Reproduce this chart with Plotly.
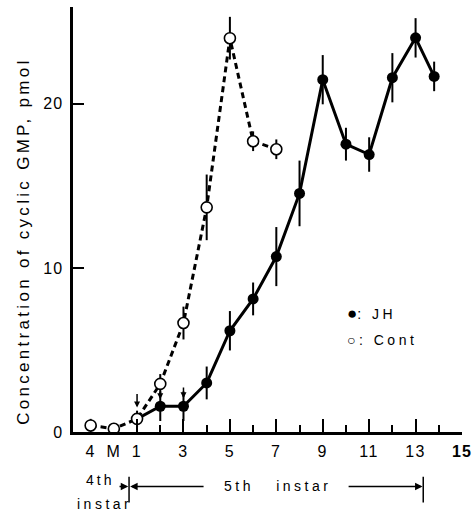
import plotly.graph_objects as go

# ---- data ----
jh_day = [1, 2, 3, 4, 5, 6, 7, 8, 9, 10, 11, 12, 13, 13.8]
jh_val = [0.8, 1.57, 1.57, 2.99, 6.17, 8.11, 10.69, 14.54, 21.47, 17.54, 16.91, 21.59, 24.02, 21.67]
jh_err = [0, 0.9, 0.9, 1.0, 1.2, 1.0, 1.8, 2.0, 1.5, 1.0, 1.05, 1.5, 1.2, 0.9]

cont_day = [-1, 0, 1, 2, 3, 4, 5, 6, 7]
cont_val = [0.4, 0.2, 0.8, 2.93, 6.64, 13.69, 24.0, 17.72, 17.23]
cont_err = [0.4, 0.3, 0.5, 0.6, 1.0, 2.0, 1.3, 0.6, 0.6]

jh_arrow_day = [1, 2, 3]
jh_arrow_top = [2.4, 2.45, 2.8]
jh_arrow_tip = [1.5, 2.0, 2.05]

tick_pos = [-1, 0, 1, 3, 5, 7, 9, 11, 13, 15]
tick_txt = ["4", "M", "1", "3", "5", "7", "9", "11", "13", "15"]

FONT = "Liberation Sans, Arial, Helvetica, sans-serif"


def sp(t, ls):
    return f"<span style='letter-spacing:{ls}px'>{t}</span>"


fig = go.Figure()

fig.add_trace(go.Scatter(
    x=jh_day, y=jh_val, mode="lines+markers",
    line=dict(color="black", width=3),
    marker=dict(size=11, color="black"),
    error_y=dict(type="data", array=jh_err, width=0, thickness=2, color="black"),
    showlegend=False, xaxis="x", yaxis="y"))

fig.add_trace(go.Scatter(
    x=cont_day, y=cont_val, mode="lines+markers",
    line=dict(color="black", width=3, dash="6px,4px"),
    marker=dict(size=11, color="white", line=dict(color="black", width=1.6)),
    error_y=dict(type="data", array=cont_err, width=0, thickness=2, color="black"),
    showlegend=False, xaxis="x", yaxis="y"))

# invisible trace for tick overlay axis
fig.add_trace(go.Scatter(x=[1, 15], y=[0, 0], mode="markers", marker=dict(opacity=0),
                         showlegend=False, hoverinfo="skip", xaxis="x2", yaxis="y"))

for d, t0, t1 in zip(jh_arrow_day, jh_arrow_top, jh_arrow_tip):
    fig.add_annotation(x=d, y=t1, ax=d, ay=t0, xref="x", yref="y", axref="x", ayref="y",
                       text="", showarrow=True, arrowhead=2, arrowsize=0.8, arrowwidth=1.5,
                       arrowcolor="black")

xr = [-1.76, 15]
fig.update_layout(
    width=474, height=511,
    margin=dict(l=73, r=12, t=7, b=78.5, autoexpand=False),
    paper_bgcolor="white", plot_bgcolor="white",
    font=dict(family=FONT, size=14, color="black"),
    xaxis=dict(range=xr, tickvals=tick_pos,
               ticktext=[sp(t, 1.5) if t != "15" else "<b>" + sp(t, 1) + "</b>" for t in tick_txt],
               ticks="", automargin=False,
               showline=True, linecolor="black", linewidth=2.5, showgrid=False,
               zeroline=False, ticklabelstandoff=3, tickfont=dict(size=16)),
    xaxis2=dict(range=xr, overlaying="x", side="bottom", matches="x", automargin=False,
                tickvals=[1, 3, 5, 7, 9, 11, 13, 15], showticklabels=False,
                ticks="inside", ticklen=13, tickwidth=2, tickcolor="black",
                minor=dict(tickvals=[2, 4, 6, 8, 10, 12, 14], ticks="inside", ticklen=7,
                           tickwidth=2, tickcolor="black"),
                showgrid=False, zeroline=False, showline=False),
    yaxis=dict(range=[0, 25.9], tickvals=[0, 10, 20], ticktext=[sp(v, 1) for v in ["0", "10", "20"]],
               ticks="inside", ticklen=11, automargin=False,
               tickwidth=2, tickcolor="black", showline=True, linecolor="black",
               linewidth=2.5, showgrid=False, zeroline=False, ticklabelstandoff=4,
               tickfont=dict(size=16)),
)

# y axis title
fig.add_annotation(text=sp("Concentration of cyclic GMP, pmol", 3.3), textangle=-90,
                   xref="paper", yref="paper", x=-0.128, y=0.448, showarrow=False,
                   font=dict(size=17), xanchor="center", yanchor="middle")

# legend text
fig.add_annotation(text="<span style='font-size:17px'>●</span>" + sp(": JH", 3.5), xref="x", yref="y",
                   x=9.95, y=7.2, xanchor="left", yanchor="middle", showarrow=False,
                   font=dict(size=14))
fig.add_annotation(text=sp("○: Cont", 3.5), xref="x", yref="y",
                   x=9.95, y=5.6, xanchor="left", yanchor="middle", showarrow=False,
                   font=dict(size=14))

# instar annotations below axis
fig.add_annotation(text=sp("4th", 3), xref="x", yref="paper", x=-0.6, y=-0.112,
                   showarrow=False, font=dict(size=14), yanchor="middle")
fig.add_annotation(text=sp("instar", 3.5), xref="x", yref="paper", x=-0.42, y=-0.170,
                   showarrow=False, font=dict(size=14), yanchor="middle")
fig.add_annotation(text=sp("5th\u00a0\u00a0\u00a0instar", 3.5), xref="x", yref="paper", x=7.03, y=-0.128,
                   showarrow=False, font=dict(size=14), yanchor="middle")
# boundary lines
for bx in [0.655, 13.33]:
    fig.add_shape(type="line", xref="x", yref="paper", x0=bx, x1=bx, y0=-0.105, y1=-0.166,
                  line=dict(color="black", width=1.5))
# arrows
for (x0, x1) in [(0.18, 0.62), (3.93, 0.7), (10.05, 13.3)]:
    fig.add_annotation(x=x1, y=-0.128, ax=x0, ay=0, xref="x", yref="paper",
                       axref="x", ayref="pixel", text="", showarrow=True, arrowhead=2,
                       arrowsize=1, arrowwidth=1.5, arrowcolor="black")

fig.write_html("out.html", config={"displayModeBar": False},
               post_script="document.body.style.margin='0px';")
